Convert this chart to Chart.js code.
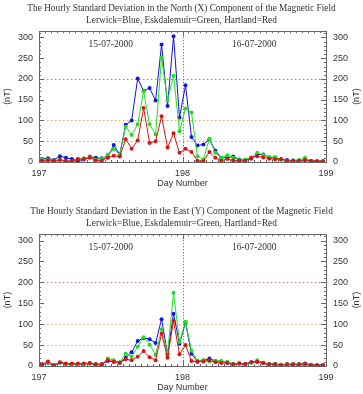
<!DOCTYPE html>
<html>
<head>
<meta charset="utf-8">
<script src="https://cdn.jsdelivr.net/npm/chart.js@4"></script>
<style>
  body { margin: 0; background: #fff; }
  #wrap { position: relative; width: 363px; height: 394px; }
  .box { position: absolute; left: 0; width: 363px; }
</style>
</head>
<body>
<div id="wrap">
  <div class="box" style="top:0px;height:190px"><canvas id="chartNorth" width="363" height="190"></canvas></div>
  <div class="box" style="top:203px;height:191px"><canvas id="chartEast" width="363" height="191"></canvas></div>
</div>
<script>
// hourly values, 15-07-2000 00h .. 16-07-2000 23h (day 197-198)
const startDay = 197;
const hourMid = Array.from({ length: 48 }, (_, h) => h + 0.5);
const dayNumbers = hourMid.map(h => startDay + h / 24);

const northLerwick = [8,9,5,14,10,7,3,6,13,10,9,10,41,18,90,100,201,171,178,148,283,135,303,107,185,60,40,42,55,27,10,10,13,6,5,8,18,18,11,10,6,5,3,3,5,3,2,2];
const northEskdalemuir = [7,6,4,5,3,2,8,9,12,6,8,18,31,18,85,65,91,170,91,66,252,148,208,74,129,119,14,6,56,22,10,16,10,5,6,11,22,17,12,12,6,3,4,5,10,2,2,2];
const northHartland = [3,4,3,5,3,1,7,7,10,4,3,11,15,13,55,32,52,130,46,50,110,35,69,22,32,24,3,2,24,10,3,7,4,3,3,10,14,11,8,6,7,3,3,3,5,2,2,2];

const eastLerwick = [3,7,2,8,5,5,5,5,6,4,4,12,10,8,20,33,60,67,64,55,112,28,125,53,104,29,11,13,18,12,11,8,5,6,5,9,10,7,5,5,3,4,4,4,6,3,2,2];
const eastEskdalemuir = [3,8,2,8,5,5,5,5,6,4,4,18,14,9,29,22,46,69,51,27,88,30,175,57,106,37,13,14,11,12,12,10,5,7,5,8,14,8,5,5,3,4,4,4,4,2,2,2];
const eastHartland = [4,11,2,9,6,6,6,6,7,4,4,14,10,8,16,14,22,36,21,14,77,20,108,28,50,12,10,11,13,9,7,7,4,6,5,9,10,7,4,4,2,4,4,4,5,2,2,2];

const xTicks = [197, 198, 199];
const yTicks = [0, 50, 100, 150, 200, 250, 300];
const refLevels = [200, 100, 50];
const refColors = ["#e86a6a", "#f0a050", "#66dd66"];
const dayBoundary = 198;
const dateLabels = ["15-07-2000", "16-07-2000"];
const dateCentres = [197.5, 198.5];
const subtitle = "Lerwick=Blue, Eskdalemuir=Green, Hartland=Red";

const SANS = "'Liberation Sans', Arial, sans-serif";
const SERIF = "'Liberation Serif', 'Times New Roman', serif";

// dotted reference lines, frame, inward ticks, date labels and (nT) labels
const decorPlugin = {
    id: "decor",
    beforeDatasetsDraw(chart) {
        const { ctx, chartArea: a, scales } = chart;
        const x = scales.x, y = scales.y;
        ctx.save();
        ctx.lineWidth = 1;
        ctx.setLineDash([1.5, 2.5]);
        refLevels.forEach((v, i) => {
            const py = Math.round(y.getPixelForValue(v)) + 0.5;
            ctx.strokeStyle = refColors[i];
            ctx.beginPath();
            ctx.moveTo(a.left, py);
            ctx.lineTo(a.right, py);
            ctx.stroke();
        });
        ctx.strokeStyle = "#555";
        ctx.setLineDash([1, 2]);
        const px = Math.round(x.getPixelForValue(dayBoundary)) + 0.5;
        ctx.beginPath();
        ctx.moveTo(px, a.top);
        ctx.lineTo(px, a.bottom);
        ctx.stroke();
        ctx.restore();

        ctx.save();
        ctx.fillStyle = "#333";
        ctx.font = "9.5px " + SERIF;
        ctx.textAlign = "center";
        ctx.textBaseline = "middle";
        dateLabels.forEach((t, i) => {
            ctx.fillText(t, x.getPixelForValue(dateCentres[i]), a.top + 13);
        });
        ctx.restore();
    },
    afterDraw(chart) {
        const { ctx, chartArea: a, scales } = chart;
        const x = scales.x, y = scales.y;
        ctx.save();
        ctx.strokeStyle = "#666";
        ctx.lineWidth = 1;
        ctx.strokeRect(Math.round(a.left) + 0.5, Math.round(a.top) + 0.5,
            Math.round(a.right - a.left), Math.round(a.bottom - a.top));
        ctx.beginPath();
        for (let v = 0; v <= y.max; v += 10) {
            const py = Math.round(y.getPixelForValue(v)) + 0.5;
            const len = v % 50 === 0 ? 5 : 2;
            ctx.moveTo(a.left, py); ctx.lineTo(a.left + len, py);
            ctx.moveTo(a.right, py); ctx.lineTo(a.right - len, py);
        }
        for (let h = 0; h <= 48; h++) {
            const px = Math.round(x.getPixelForValue(startDay + h / 24)) + 0.5;
            const len = h % 24 === 0 ? 5 : 2;
            ctx.moveTo(px, a.top); ctx.lineTo(px, a.top + len);
            ctx.moveTo(px, a.bottom); ctx.lineTo(px, a.bottom - len);
        }
        ctx.stroke();

        ctx.fillStyle = "#333";
        ctx.font = "9px " + SANS;
        ctx.textAlign = "center";
        ctx.textBaseline = "middle";
        const cy = (a.top + a.bottom) / 2;
        [8, chart.width - 6].forEach(tx => {
            ctx.save();
            ctx.translate(tx, cy);
            ctx.rotate(-Math.PI / 2);
            ctx.fillText("(nT)", 0, 0);
            ctx.restore();
        });
        ctx.restore();
    }
};

function series(label, values, color, order) {
    return {
        label: label,
        data: values.map((v, i) => ({ x: dayNumbers[i], y: v })),
        borderColor: color,
        backgroundColor: color,
        borderWidth: 1,
        pointRadius: 2,
        pointBorderWidth: 0,
        pointHoverRadius: 2,
        tension: 0,
        order: order,
    };
}

function yAxis(position, width, pad) {
    return {
        type: "linear",
        position: position,
        min: 0,
        max: 315,
        afterBuildTicks: s => { s.ticks = yTicks.map(v => ({ value: v })); },
        afterFit: s => { s.width = width; },
        grid: { display: false, drawTicks: false },
        border: { display: false },
        ticks: { padding: pad, color: "#333", font: { family: SANS, size: 9 } },
    };
}

function makeChart(id, title, lerwick, eskdalemuir, hartland) {
    const ctx = document.getElementById(id).getContext("2d");
    return new Chart(ctx, {
        type: "line",
        data: {
            datasets: [
                series("Lerwick", lerwick, "#1414d8", 2),
                series("Eskdalemuir", eskdalemuir, "#22dd22", 1),
                series("Hartland", hartland, "#d81414", 0),
            ],
        },
        options: {
            responsive: false,
            animation: false,
            layout: { padding: 0 },
            plugins: {
                legend: { display: false },
                tooltip: { enabled: false },
                title: {
                    display: true,
                    text: [title, subtitle],
                    color: "#333",
                    font: { family: SERIF, size: 9.3, weight: "normal", lineHeight: 1.25 },
                    padding: { top: 3, bottom: 5 },
                },
            },
            scales: {
                x: {
                    type: "linear",
                    min: 197,
                    max: 199,
                    afterBuildTicks: s => { s.ticks = xTicks.map(v => ({ value: v })); },
                    afterFit: s => { s.height = 28; },
                    grid: { display: false, drawTicks: false },
                    border: { display: false },
                    ticks: { padding: 6, color: "#333", maxRotation: 0, font: { family: SANS, size: 9 } },
                    title: { display: true, text: "Day Number", color: "#333", font: { family: SANS, size: 9 }, padding: { top: 0, bottom: 1 } },
                },
                y: yAxis("left", 39, 6),
                y2: yAxis("right", 37, 7),
            },
        },
        plugins: [decorPlugin],
    });
}

document.addEventListener("DOMContentLoaded", function () {
    makeChart("chartNorth", "The Hourly Standard Deviation in the North (X) Component of the Magnetic Field",
        northLerwick, northEskdalemuir, northHartland);
    makeChart("chartEast", "The Hourly Standard Deviation in the East (Y) Component of the Magnetic Field",
        eastLerwick, eastEskdalemuir, eastHartland);
});
</script>
</body>
</html>
